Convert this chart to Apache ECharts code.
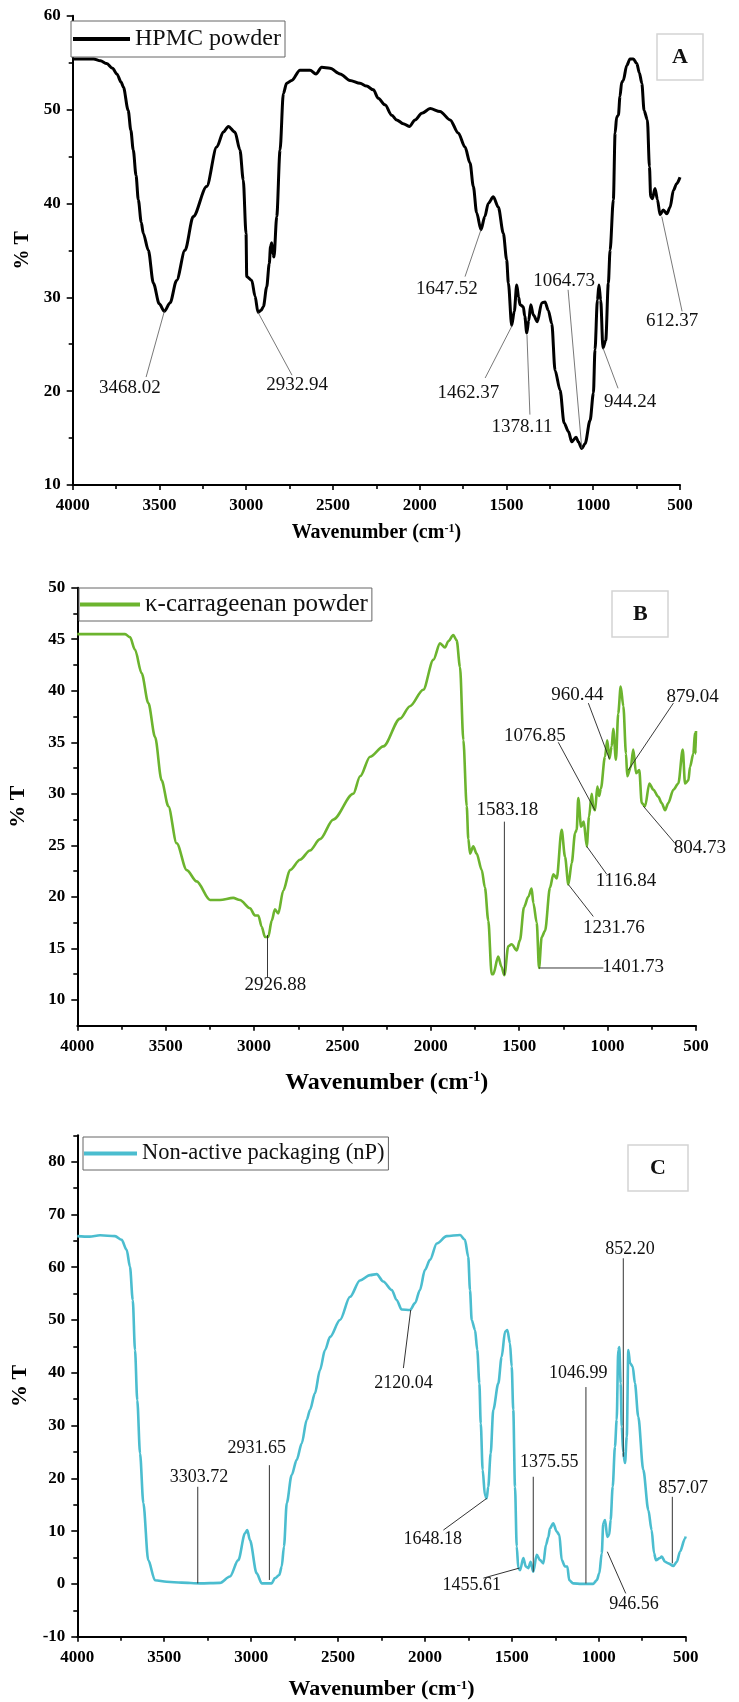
<!DOCTYPE html>
<html>
<head>
<meta charset="utf-8">
<title>FTIR spectra</title>
<script src="https://cdn.jsdelivr.net/npm/echarts@6/dist/echarts.min.js"></script>
<style>
  html, body { margin: 0; padding: 0; background: #fff; }
  #chart { width: 739px; height: 1702px; }
</style>
</head>
<body>
<div id="chart"></div>
<script>
// ---- Spectrum A: HPMC powder ----
const hpmcWn = [4000, 3950, 3880, 3840, 3804, 3770, 3746, 3720, 3708, 3680, 3665, 3651, 3635, 3622, 3605, 3593, 3564, 3535, 3501, 3472, 3439, 3401, 3353, 3305, 3228, 3170, 3132, 3103, 3065, 3036, 3017, 3001, 2997, 2968, 2949, 2932, 2915, 2901, 2882, 2867, 2860, 2853, 2846, 2840, 2824, 2805, 2786, 2767, 2738, 2690, 2632, 2598, 2565, 2517, 2459, 2402, 2344, 2306, 2267, 2239, 2200, 2161, 2133, 2095, 2060, 2027, 1988, 1940, 1883, 1825, 1778, 1739, 1710, 1691, 1672, 1647, 1625, 1605, 1576, 1547, 1518, 1499, 1489, 1470, 1455, 1441, 1430, 1422, 1403, 1395, 1383, 1372, 1360, 1345, 1322, 1297, 1278, 1259, 1239, 1220, 1191, 1168, 1143, 1124, 1099, 1086, 1066, 1047, 1018, 999, 990, 976, 967, 957, 944, 928, 913, 903, 884, 874, 865, 855, 846, 836, 827, 807, 788, 769, 749, 734, 720, 707, 688, 676, 669, 659, 644, 630, 615, 596, 576, 557, 538, 519, 500];
const hpmcT = [55.4, 55.4, 55.4, 55.2, 54.9, 54.4, 53.8, 52.9, 52.4, 49.9, 47.8, 45.7, 43.0, 40.4, 38.0, 36.8, 35.0, 31.5, 29.3, 28.5, 29.4, 31.8, 35.0, 38.6, 41.8, 46.0, 47.6, 48.2, 47.6, 45.7, 42.5, 36.8, 32.2, 31.8, 30.1, 28.4, 28.6, 29.0, 31.1, 33.6, 35.4, 35.8, 34.6, 34.3, 38.6, 45.7, 51.7, 52.8, 53.1, 54.2, 54.2, 53.8, 54.5, 54.4, 53.8, 53.1, 52.8, 52.5, 52.1, 51.2, 50.5, 49.4, 48.9, 48.5, 48.2, 48.9, 49.6, 50.1, 49.8, 48.9, 47.5, 46.0, 44.3, 41.8, 39.0, 37.2, 38.6, 40.0, 40.7, 39.6, 36.8, 34.0, 31.5, 27.0, 28.5, 31.3, 30.0, 29.2, 29.0, 28.0, 26.2, 27.5, 29.2, 28.1, 27.4, 29.4, 29.5, 28.6, 27.2, 22.2, 20.1, 16.6, 15.7, 14.6, 15.1, 14.6, 13.9, 14.4, 16.9, 19.8, 24.4, 29.7, 31.3, 29.7, 24.6, 25.4, 31.5, 35.0, 40.4, 47.5, 49.2, 49.4, 51.4, 52.9, 53.1, 54.7, 55.4, 55.4, 54.9, 53.9, 52.8, 49.9, 48.9, 43.9, 40.7, 40.5, 41.6, 40.4, 38.8, 39.3, 38.9, 39.6, 41.4, 42.1, 42.8];

// ---- Spectrum B: kappa-carrageenan powder ----
const carrWn = [4000, 3900, 3800, 3730, 3702, 3674, 3636, 3598, 3560, 3523, 3485, 3438, 3381, 3325, 3249, 3193, 3118, 3080, 3023, 2995, 2976, 2957, 2938, 2920, 2900, 2882, 2863, 2835, 2797, 2740, 2684, 2627, 2552, 2439, 2400, 2344, 2269, 2174, 2118, 2043, 1986, 1948, 1920, 1901, 1873, 1854, 1835, 1816, 1797, 1788, 1778, 1760, 1741, 1712, 1694, 1675, 1656, 1647, 1619, 1600, 1584, 1562, 1543, 1514, 1496, 1473, 1449, 1430, 1420, 1401, 1388, 1373, 1354, 1326, 1307, 1288, 1260, 1241, 1222, 1203, 1184, 1175, 1166, 1150, 1135, 1118, 1105, 1090, 1080, 1071, 1058, 1048, 1038, 1015, 1002, 990, 977, 968, 953, 940, 926, 911, 896, 889, 869, 855, 839, 821, 807, 788, 764, 741, 713, 694, 675, 657, 628, 600, 575, 562, 543, 534, 515, 506, 503, 500];
const carrT = [45.5, 45.5, 45.5, 45.5, 45.2, 44.0, 41.7, 38.8, 35.5, 31.3, 28.8, 25.2, 22.6, 21.5, 19.7, 19.7, 19.9, 19.7, 18.9, 18.2, 18.2, 17.1, 16.1, 16.1, 17.7, 18.8, 18.4, 20.6, 22.6, 23.6, 24.5, 25.6, 27.5, 30.0, 31.7, 33.6, 34.6, 37.3, 38.5, 40.1, 43.0, 44.6, 44.2, 44.8, 45.4, 44.9, 42.3, 35.2, 28.8, 25.6, 24.2, 24.9, 24.2, 22.6, 20.9, 17.7, 12.5, 12.5, 14.2, 13.2, 12.4, 15.2, 15.4, 14.8, 15.8, 19.0, 20.0, 20.8, 19.4, 17.5, 13.1, 16.1, 16.7, 20.9, 22.2, 21.8, 26.5, 23.9, 21.2, 23.3, 26.2, 26.5, 29.6, 26.8, 27.3, 24.9, 27.8, 30.0, 28.6, 28.4, 30.7, 29.8, 30.5, 33.6, 35.2, 33.4, 34.6, 36.3, 33.3, 37.8, 40.4, 38.5, 33.9, 31.7, 32.6, 34.3, 32.0, 32.3, 29.1, 28.8, 31.0, 30.4, 29.7, 29.1, 28.4, 29.1, 30.4, 31.0, 34.3, 31.0, 31.3, 32.6, 33.9, 35.9, 33.9, 36.1];

// ---- Spectrum C: non-active packaging film ----
const npWn = [4000, 3930, 3869, 3783, 3745, 3716, 3697, 3681, 3668, 3655, 3639, 3620, 3592, 3553, 3486, 3400, 3294, 3179, 3122, 3074, 3035, 3022, 3007, 2968, 2939, 2882, 2863, 2838, 2824, 2811, 2795, 2767, 2738, 2709, 2680, 2661, 2633, 2604, 2575, 2546, 2489, 2431, 2374, 2316, 2278, 2240, 2191, 2163, 2134, 2086, 2057, 2029, 2000, 1971, 1932, 1875, 1798, 1770, 1751, 1741, 1731, 1712, 1699, 1687, 1679, 1668, 1655, 1645, 1636, 1622, 1607, 1578, 1559, 1539, 1526, 1511, 1501, 1492, 1482, 1472, 1463, 1453, 1434, 1420, 1405, 1392, 1377, 1357, 1338, 1319, 1304, 1290, 1281, 1262, 1242, 1227, 1213, 1194, 1181, 1170, 1147, 1100, 1032, 1012, 997, 983, 974, 964, 951, 940, 932, 920, 907, 897, 888, 882, 874, 868, 860, 849, 839, 830, 820, 805, 792, 773, 744, 715, 696, 682, 671, 648, 638, 619, 600, 571, 551, 533, 504, 500];
const npT = [65.9, 65.8, 66.05, 65.9, 65.2, 63.3, 60.1, 53.8, 44.3, 34.8, 24.7, 15.3, 4.5, 0.7, 0.4, 0.25, 0.1, 0.2, 1.4, 4.5, 9.6, 10.2, 8.3, 2.0, 0.1, 0.1, 1.1, 1.7, 3.3, 7.1, 15.3, 20.6, 23.5, 26.6, 31.1, 33.0, 36.1, 40.5, 44.3, 46.8, 50.0, 54.4, 57.5, 58.5, 58.7, 57.3, 55.7, 53.8, 52.0, 51.9, 53.2, 55.7, 59.5, 61.4, 64.5, 65.9, 66.1, 65.2, 62.0, 55.7, 50.0, 48.1, 44.3, 38.0, 30.4, 21.6, 16.8, 16.2, 18.4, 24.7, 33.0, 38.0, 43.0, 47.8, 48.1, 45.6, 41.2, 33.0, 18.4, 7.1, 3.0, 2.6, 4.9, 3.3, 3.0, 4.2, 2.3, 5.5, 4.5, 3.9, 7.4, 8.9, 10.5, 11.5, 9.9, 9.3, 4.5, 3.3, 3.3, 0.7, 0.1, 0.0, 0.0, 0.7, 2.0, 5.8, 11.5, 12.1, 8.9, 9.3, 12.1, 18.4, 26.0, 31.1, 44.3, 44.9, 38.0, 29.8, 25.0, 22.9, 27.9, 44.3, 41.8, 41.2, 38.0, 31.7, 21.6, 14.0, 10.2, 5.8, 4.5, 4.9, 5.2, 4.2, 3.9, 3.4, 4.2, 6.1, 8.6, 9.0];

// Peak callouts: [label, peak wn, peak %T, leader end wn, leader end %T, label wn, label %T]
const calloutsA = [
  ['3468.02', 3472, 28.5, 3577, 21.5, 3670, 20.3],
  ['2932.94', 2932, 28.4, 2736, 21.7, 2707, 20.6],
  ['1647.52', 1647, 37.2, 1739, 32.2, 1843, 30.9],
  ['1064.73', 1066, 13.9, 1145, 30.8, 1168, 31.7],
  ['1462.37', 1467, 27.0, 1623, 21.4, 1720, 19.8],
  ['1378.11', 1382, 26.0, 1365, 17.5, 1410, 16.2],
  ['944.24', 944, 24.6, 857, 20.3, 788, 18.8],
  ['612.37', 605, 38.6, 488, 28.5, 545, 27.5]
];
const calloutsB = [
  ['2926.88', 2924, 16.3, 2924, 12.2, 2879, 11.4],
  ['1583.18', 1584, 27.3, 1584, 12.4, 1567, 28.4],
  ['1401.73', 1388, 13.1, 1024, 13.1, 856, 13.2],
  ['1231.76', 1222, 21.2, 1081, 18.1, 964, 17.0],
  ['1116.84', 1118, 24.9, 1005, 22.2, 896, 21.5],
  ['804.73', 798, 28.8, 619, 25.2, 478, 24.7],
  ['1076.85', 1071, 28.4, 1279, 35.0, 1411, 35.6],
  ['960.44', 990, 33.4, 1109, 38.8, 1171, 39.6],
  ['879.04', 883, 32.3, 628, 38.8, 519, 39.4]
];
const calloutsC = [
  ['3303.72', 3307, 0.1, 3307, 18.4, 3300, 20.2],
  ['2931.65', 2895, 0.75, 2895, 22.5, 2968, 25.7],
  ['2120.04', 2082, 51.9, 2124, 40.9, 2124, 38.0],
  ['1046.99', 1074, 0.1, 1074, 37.3, 1118, 40.0],
  ['852.20', 859, 24.1, 859, 61.7, 820, 63.4],
  ['1648.18', 1645, 16.2, 1894, 10.2, 1955, 8.5],
  ['1375.55', 1377, 2.3, 1377, 20.3, 1285, 23.0],
  ['1455.61', 1457, 3.0, 1664, 1.1, 1731, -0.2],
  ['946.56', 951, 6.1, 845, -1.8, 797, -3.8],
  ['857.07', 577, 3.9, 577, 16.5, 514, 18.1]
];

// Y tick values per panel
const yMajorA = [10, 20, 30, 40, 50, 60];
const yMinorA = [15, 25, 35, 45, 55];
const yMajorB = [10, 15, 20, 25, 30, 35, 40, 45, 50];
const yMinorB = [12.5, 17.5, 22.5, 27.5, 32.5, 37.5, 42.5, 47.5];
const yMajorC = [-10, 0, 10, 20, 30, 40, 50, 60, 70, 80];
const yMinorC = [-5, 5, 15, 25, 35, 45, 55, 65, 75, 85];

const SERIF = '"Liberation Serif", "Times New Roman", serif';

function zip(xs, ys) { return xs.map((x, i) => [x, ys[i]]); }

function grid(left, top, width, height) {
  return { left, top, width, height, outerBoundsMode: 'none', containLabel: false };
}

function xAxis(gridIndex, nameGap, nameSize) {
  return {
    gridIndex, type: 'value', min: 500, max: 4000, interval: 500, inverse: true,
    name: 'Wavenumber (cm{sup|-1})', nameLocation: 'middle', nameGap,
    nameTextStyle: {
      fontFamily: SERIF, fontWeight: 'bold', fontSize: nameSize, color: '#000',
      rich: { sup: { fontFamily: SERIF, fontWeight: 'bold', fontSize: Math.round(nameSize * 0.6), color: '#000', verticalAlign: 'top' } }
    },
    axisLine: { onZero: false, lineStyle: { color: '#000', width: 2 } },
    axisTick: { length: 5, lineStyle: { color: '#000', width: 1.6 } },
    minorTick: { show: true, splitNumber: 2, length: 4, lineStyle: { color: '#000', width: 1.6 } },
    splitLine: { show: false },
    minorSplitLine: { show: false },
    axisLabel: {
      margin: 12, fontFamily: SERIF, fontWeight: 'bold', fontSize: 17, color: '#000',
      formatter: v => String(v)
    }
  };
}

function yAxes(gridIndex, min, max, majors, minors, nameGap, nameSize) {
  return [{
    gridIndex, type: 'value', min, max, position: 'left',
    name: '% T', nameLocation: 'middle', nameGap, nameRotate: 90,
    nameTextStyle: { fontFamily: SERIF, fontWeight: 'bold', fontSize: nameSize, color: '#000' },
    axisLine: { show: true, onZero: false, lineStyle: { color: '#000', width: 2 } },
    axisTick: { show: true, length: 6, customValues: majors, lineStyle: { color: '#000', width: 1.6 } },
    axisLabel: {
      margin: 12, fontFamily: SERIF, fontWeight: 'bold', fontSize: 17, color: '#000',
      customValues: majors,
      formatter: v => (majors.indexOf(v) >= 0 ? String(v) : '')
    },
    splitLine: { show: false }
  }, {
    gridIndex, type: 'value', min, max, position: 'left', offset: 0,
    axisLine: { show: false, onZero: false },
    axisTick: { show: true, length: 4, customValues: minors, lineStyle: { color: '#000', width: 1.6 } },
    axisLabel: { show: false },
    splitLine: { show: false }
  }];
}

function spectrum(name, idx, data, color, width) {
  return {
    name, type: 'line', xAxisIndex: idx, yAxisIndex: idx * 2, data,
    symbol: 'none', smooth: 0.3, smoothMonotone: 'x',
    lineStyle: { color, width }, itemStyle: { color },
    z: 3
  };
}

function callouts(idx, list, fontSize, stroke, strokeWidth) {
  return {
    type: 'custom', xAxisIndex: idx, yAxisIndex: idx * 2,
    data: list.map(c => c.slice(1)),
    encode: { x: 0, y: 1 },
    clip: false, silent: true, z: 4,
    renderItem(params, api) {
      const c = list[params.dataIndex];
      const p1 = api.coord([c[1], c[2]]);
      const p2 = api.coord([c[3], c[4]]);
      const pt = api.coord([c[5], c[6]]);
      return {
        type: 'group',
        children: [
          { type: 'line', shape: { x1: p1[0], y1: p1[1], x2: p2[0], y2: p2[1] },
            style: { stroke, lineWidth: strokeWidth } },
          { type: 'text', x: pt[0], y: pt[1],
            style: { text: c[0], fontFamily: SERIF, fontSize, fill: '#111', align: 'center', verticalAlign: 'middle' } }
        ]
      };
    }
  };
}

function panelTag(text, left, top, padV, padH, size) {
  return {
    text, left, top, padding: [padV, padH],
    borderColor: '#d4d4d4', borderWidth: 1.5,
    textStyle: { fontFamily: SERIF, fontWeight: 'bold', fontSize: size, color: '#111' }
  };
}

function legendBox(name, left, top, itemWidth, fontSize, padding) {
  return {
    data: [name], left, top, orient: 'horizontal', padding,
    icon: 'rect', itemWidth, itemHeight: 4, itemGap: 0,
    borderColor: '#666', borderWidth: 1, backgroundColor: '#fff',
    selectedMode: false,
    textStyle: { fontFamily: SERIF, fontSize, color: '#111' }
  };
}

const option = {
  animation: false,
  backgroundColor: '#fff',
  grid: [
    grid(72.7, 15.7, 607.3, 469.3),
    grid(77.3, 587.7, 618.7, 438),
    grid(77.3, 1135.3, 608.4, 501.4)
  ],
  xAxis: [xAxis(0, 38, 20), xAxis(1, 45, 24), xAxis(2, 42, 22)],
  yAxis: [
    ...yAxes(0, 10, 60, yMajorA, yMinorA, 36, 20),
    ...yAxes(1, 7.5, 50, yMajorB, yMinorB, 48, 22),
    ...yAxes(2, -10, 85, yMajorC, yMinorC, 43, 22)
  ],
  title: [
    panelTag('A', 657, 34, 12, 15, 22),
    panelTag('B', 612, 591, 12, 21, 22),
    panelTag('C', 628, 1145, 12, 22, 22)
  ],
  legend: [
    legendBox('HPMC powder', 71, 21, 57, 24, [6, 4, 6, 2]),
    legendBox('κ-carrageenan powder', 79, 588, 60, 25, [4, 4, 4, 1]),
    legendBox('Non-active packaging (nP)', 83, 1137, 53, 22.5, [5, 4, 5, 1])
  ],
  series: [
    spectrum('HPMC powder', 0, zip(hpmcWn, hpmcT), '#000000', 3),
    spectrum('κ-carrageenan powder', 1, zip(carrWn, carrT), '#6cb42e', 2.6),
    spectrum('Non-active packaging (nP)', 2, zip(npWn, npT), '#4bbdcf', 2.6),
    callouts(0, calloutsA, 19, '#555', 0.8),
    callouts(1, calloutsB, 19, '#222', 0.9),
    callouts(2, calloutsC, 18, '#333', 1)
  ]
};

const chart = echarts.init(document.getElementById('chart'), null, { renderer: 'canvas' });
chart.setOption(option);
</script>
</body>
</html>
